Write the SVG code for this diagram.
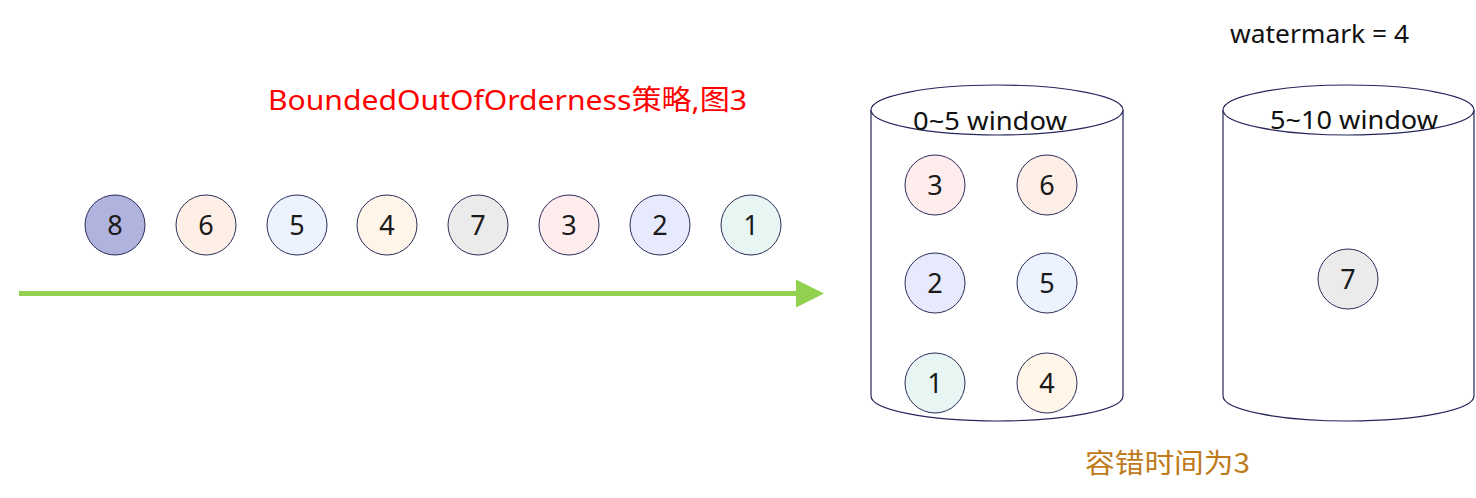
<svg xmlns="http://www.w3.org/2000/svg" width="1476" height="498" viewBox="0 0 1476 498">
<style>
.c{stroke:#2b2d5a;stroke-width:1}
.n{font-family:"Noto Sans","Noto Sans CJK SC",sans-serif;font-size:27px;fill:#1a1a1a;text-anchor:middle}
.cyl{fill:#fff;stroke:#23265a;stroke-width:1.2}
.lbl{font-family:"Noto Sans","Noto Sans CJK SC",sans-serif;font-size:26px;fill:#111}
</style>
<defs>
<marker id="ah" markerWidth="28" markerHeight="28" viewBox="0 0 28 28" refX="0" refY="14" orient="auto" markerUnits="userSpaceOnUse">
<path d="M0,0 L28,14 L0,28 Z" fill="#92D050"/>
</marker>
</defs>
<rect width="1476" height="498" fill="#fff"/>
<text x="268" y="110" style="font-family:'Noto Sans','Noto Sans CJK SC',sans-serif;font-size:28px;fill:#ff0000" textLength="479" lengthAdjust="spacingAndGlyphs">BoundedOutOfOrderness策略,图3</text>
<text x="1230" y="43" class="lbl" textLength="179" lengthAdjust="spacingAndGlyphs">watermark = 4</text>
<text x="1085" y="473" style="font-family:'Noto Sans CJK SC','Noto Sans',sans-serif;font-size:27px;fill:#C07A1A" textLength="165" lengthAdjust="spacingAndGlyphs">容错时间为3</text>
<g id="connectors">
<line x1="19" y1="293.5" x2="796" y2="293.5" stroke="#92D050" stroke-width="5" marker-end="url(#ah)"/>
</g>
<g id="window1">
<path class="cyl" d="M871,110 L871,396 A126,25 0 0 0 1123,396 L1123,110"/>
<ellipse class="cyl" cx="997" cy="110" rx="126" ry="25"/>
<text x="913" y="130" class="lbl" textLength="154" lengthAdjust="spacingAndGlyphs">0~5 window</text>
</g>
<g id="window2">
<path class="cyl" d="M1223,110 L1223,396 A125.5,25 0 0 0 1474,396 L1474,110"/>
<ellipse class="cyl" cx="1348.5" cy="110" rx="125.5" ry="25"/>
<text x="1270" y="129" class="lbl" textLength="168" lengthAdjust="spacingAndGlyphs">5~10 window</text>
</g>
<g id="s8"><circle class="c" cx="115" cy="225" r="30" fill="#B0B3DD"/><text class="n" x="115" y="235">8</text></g>
<g id="s6"><circle class="c" cx="206" cy="225" r="30" fill="#FDEFE5"/><text class="n" x="206" y="235">6</text></g>
<g id="s5"><circle class="c" cx="297" cy="225" r="30" fill="#ECF3FE"/><text class="n" x="297" y="235">5</text></g>
<g id="s4"><circle class="c" cx="387" cy="225" r="30" fill="#FFF5E8"/><text class="n" x="387" y="235">4</text></g>
<g id="s7"><circle class="c" cx="478" cy="225" r="30" fill="#EBEBEB"/><text class="n" x="478" y="235">7</text></g>
<g id="s3"><circle class="c" cx="569" cy="225" r="30" fill="#FFECEC"/><text class="n" x="569" y="235">3</text></g>
<g id="s2"><circle class="c" cx="660" cy="225" r="30" fill="#E7EAFC"/><text class="n" x="660" y="235">2</text></g>
<g id="s1"><circle class="c" cx="751" cy="225" r="30" fill="#E7F6F2"/><text class="n" x="751" y="235">1</text></g>
<g id="w3"><circle class="c" cx="935" cy="185" r="30" fill="#FFECEC"/><text class="n" x="935" y="195">3</text></g>
<g id="w6"><circle class="c" cx="1047" cy="185" r="30" fill="#FDEFE5"/><text class="n" x="1047" y="195">6</text></g>
<g id="w2"><circle class="c" cx="935" cy="283" r="30" fill="#E7EAFC"/><text class="n" x="935" y="293">2</text></g>
<g id="w5"><circle class="c" cx="1047" cy="283" r="30" fill="#ECF3FE"/><text class="n" x="1047" y="293">5</text></g>
<g id="w1"><circle class="c" cx="935" cy="383" r="30" fill="#E7F6F2"/><text class="n" x="935" y="393">1</text></g>
<g id="w4"><circle class="c" cx="1047" cy="383" r="30" fill="#FFF5E8"/><text class="n" x="1047" y="393">4</text></g>
<g id="w7"><circle class="c" cx="1348" cy="279" r="30" fill="#EBEBEB"/><text class="n" x="1348" y="289">7</text></g>
</svg>
